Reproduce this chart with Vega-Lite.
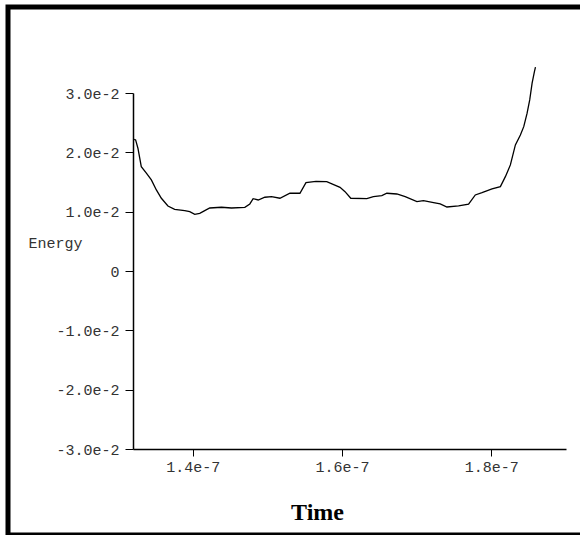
{
  "$schema": "https://vega.github.io/schema/vega-lite/v6.json",
  "width": 600,
  "height": 528,
  "autosize": {"type": "none"},
  "padding": {"left": 8, "top": 7, "right": 0, "bottom": 0},
  "background": "white",
  "config": {
    "view": {"stroke": "black", "strokeWidth": 5},
    "axis": {
      "grid": false,
      "domainColor": "black",
      "domainWidth": 1.5,
      "tickColor": "black",
      "tickWidth": 1,
      "labelFont": "Liberation Mono",
      "labelFontSize": 15,
      "labelColor": "#333"
    }
  },
  "data": {
    "values": [
      {"t": 1.3215e-7, "v": 0.0222},
      {"t": 1.3235e-7, "v": 0.02209},
      {"t": 1.3266e-7, "v": 0.02069},
      {"t": 1.3311e-7, "v": 0.01759},
      {"t": 1.3379e-7, "v": 0.01648},
      {"t": 1.3446e-7, "v": 0.01535},
      {"t": 1.3513e-7, "v": 0.01366},
      {"t": 1.358e-7, "v": 0.01226},
      {"t": 1.3668e-7, "v": 0.01096},
      {"t": 1.3758e-7, "v": 0.0104},
      {"t": 1.3893e-7, "v": 0.01017},
      {"t": 1.396e-7, "v": 0.01},
      {"t": 1.4027e-7, "v": 0.00956},
      {"t": 1.4094e-7, "v": 0.00973},
      {"t": 1.4161e-7, "v": 0.01017},
      {"t": 1.4228e-7, "v": 0.01062},
      {"t": 1.4385e-7, "v": 0.01074},
      {"t": 1.4519e-7, "v": 0.01062},
      {"t": 1.4698e-7, "v": 0.01074},
      {"t": 1.4765e-7, "v": 0.0113},
      {"t": 1.4809e-7, "v": 0.01219},
      {"t": 1.4877e-7, "v": 0.01197},
      {"t": 1.4966e-7, "v": 0.01243},
      {"t": 1.5056e-7, "v": 0.01253},
      {"t": 1.5168e-7, "v": 0.01226},
      {"t": 1.5302e-7, "v": 0.0131},
      {"t": 1.5436e-7, "v": 0.0131},
      {"t": 1.5517e-7, "v": 0.01489},
      {"t": 1.5651e-7, "v": 0.01509},
      {"t": 1.5795e-7, "v": 0.01506},
      {"t": 1.5973e-7, "v": 0.01411},
      {"t": 1.604e-7, "v": 0.01337},
      {"t": 1.6117e-7, "v": 0.01226},
      {"t": 1.6332e-7, "v": 0.01219},
      {"t": 1.642e-7, "v": 0.01253},
      {"t": 1.6533e-7, "v": 0.0127},
      {"t": 1.66e-7, "v": 0.0131},
      {"t": 1.6734e-7, "v": 0.01298},
      {"t": 1.6846e-7, "v": 0.01253},
      {"t": 1.7003e-7, "v": 0.01169},
      {"t": 1.7091e-7, "v": 0.01186},
      {"t": 1.7226e-7, "v": 0.01152},
      {"t": 1.7315e-7, "v": 0.0113},
      {"t": 1.7405e-7, "v": 0.01079},
      {"t": 1.7561e-7, "v": 0.01096},
      {"t": 1.7695e-7, "v": 0.01125},
      {"t": 1.7785e-7, "v": 0.01282},
      {"t": 1.7875e-7, "v": 0.0132},
      {"t": 1.8009e-7, "v": 0.01383},
      {"t": 1.8121e-7, "v": 0.01422},
      {"t": 1.8188e-7, "v": 0.0159},
      {"t": 1.8255e-7, "v": 0.01788},
      {"t": 1.8322e-7, "v": 0.02125},
      {"t": 1.8389e-7, "v": 0.02293},
      {"t": 1.8434e-7, "v": 0.02433},
      {"t": 1.8479e-7, "v": 0.02659},
      {"t": 1.8514e-7, "v": 0.02884},
      {"t": 1.8546e-7, "v": 0.03165},
      {"t": 1.8577e-7, "v": 0.03361},
      {"t": 1.8591e-7, "v": 0.03435}
    ]
  },
  "mark": {"type": "line", "color": "black", "strokeWidth": 1.3},
  "encoding": {
    "x": {
      "field": "t",
      "type": "quantitative",
      "scale": {"domain": [1.32e-7, 1.9e-7], "range": [125, 558], "nice": false, "zero": false},
      "axis": {
        "values": [1.4e-7, 1.6e-7, 1.8e-7],
        "labelExpr": "format(datum.value, '.1e')",
        "offset": -86,
        "tickSize": 7,
        "labelPadding": 3,
        "title": "Time",
        "titleFont": "Liberation Serif",
        "titleFontSize": 24,
        "titleFontWeight": "bold",
        "titleColor": "black",
        "titleAnchor": null,
        "titleAlign": "center",
        "titleBaseline": "alphabetic",
        "titleX": 309,
        "titleY": 70
      }
    },
    "y": {
      "field": "v",
      "type": "quantitative",
      "scale": {"domain": [-0.03, 0.03], "range": [442, 86], "nice": false, "zero": false},
      "axis": {
        "values": [-0.03, -0.02, -0.01, 0, 0.01, 0.02, 0.03],
        "labelExpr": "datum.value == 0 ? '0' : (datum.value < 0 ? '-' : '') + format(abs(datum.value), '.1e')",
        "offset": -125,
        "tickSize": 8,
        "labelPadding": 6,
        "title": "Energy",
        "titleFont": "Liberation Mono",
        "titleFontSize": 15,
        "titleFontWeight": "normal",
        "titleColor": "#333",
        "titleAngle": 0,
        "titleAnchor": null,
        "titleAlign": "left",
        "titleBaseline": "middle",
        "titleX": -105,
        "titleY": 235
      }
    }
  }
}
